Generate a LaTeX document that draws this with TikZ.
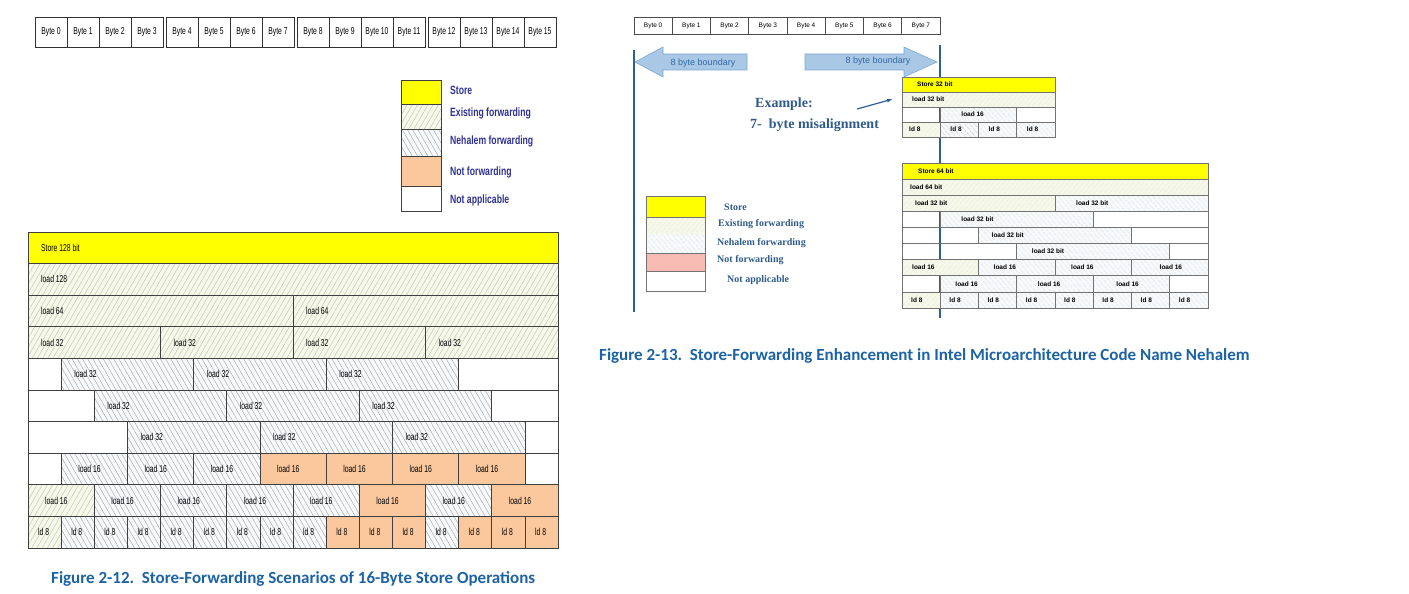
\documentclass[tikz,border=0pt]{standalone}
\usepackage{fontspec}
\setmainfont{Liberation Sans}
\newfontfamily\narrowfont[FakeStretch=0.68]{Liberation Sans}
\newfontfamily\legendfont[FakeStretch=0.72]{Liberation Sans}
\newfontfamily\timesfont{Liberation Serif}
\newfontfamily\capfont{Carlito}
\usetikzlibrary{arrows.meta, patterns.meta}

\definecolor{storeyellow}{HTML}{FFFF00}
\definecolor{exbg}{HTML}{F6F8EA}
\definecolor{exline}{HTML}{C3CBB2}
\definecolor{nhbg}{HTML}{F8F9FA}
\definecolor{nhline}{HTML}{A6AFB9}
\definecolor{rnhline}{HTML}{98A2AD}
\definecolor{nfleft}{HTML}{FAC89C}
\definecolor{nfright}{HTML}{F8BBB4}
\definecolor{legendblue}{HTML}{2E3192}
\definecolor{serifblue}{HTML}{2F5B8C}
\definecolor{steelblue}{HTML}{2C5F93}
\definecolor{arrowfill}{HTML}{A8C8E6}
\definecolor{arrowdraw}{HTML}{7FA8D0}
\definecolor{arrowtextblue}{HTML}{3468A4}
\definecolor{capblue}{HTML}{1C63A6}

\begin{document}
\begin{tikzpicture}[
	x=1pt, y=-1pt,
	grid/.style={draw=black!75, line width=0.7pt},
	rgrid/.style={draw=black!55, line width=0.6pt},
	storecell/.style={fill=storeyellow},
	exfwd/.style={preaction={fill=exbg}, pattern={Lines[angle=60, distance=4.5pt, line width=0.5pt]}, pattern color=exline},
	nhfwd/.style={preaction={fill=nhbg}, pattern={Lines[angle=120, distance=4.5pt, line width=0.5pt]}, pattern color=nhline},
	nofwd/.style={fill=nfleft},
	nacell/.style={fill=white},
	rexfwd/.style={preaction={fill=exbg}, pattern={Lines[angle=50, distance=4pt, line width=0.4pt]}, pattern color=exline},
	rnhfwd/.style={preaction={fill=nhbg}, pattern={Lines[angle=130, distance=4pt, line width=0.45pt]}, pattern color=rnhline},
	pinkfwd/.style={fill=nfright},
	lbyte/.style={draw=black!80, line width=0.6pt, minimum width=32pt, minimum height=30pt, inner sep=0pt, font=\narrowfont\fontsize{10}{11}\selectfont},
	rbyte/.style={draw=black!70, line width=0.6pt, minimum width=38.25pt, minimum height=17pt, inner sep=0pt, font=\fontsize{6.5}{7}\selectfont},
	llabel/.style={anchor=west, inner sep=0pt, font=\narrowfont\fontsize{10}{11}\selectfont},
	rlabel/.style={anchor=west, inner sep=0pt, font=\fontsize{6.5}{7}\selectfont\bfseries},
	legendtext/.style={anchor=west, inner sep=0pt, text=legendblue, font=\legendfont\fontsize{12}{13}\selectfont\bfseries},
	serifleg/.style={anchor=west, inner sep=0pt, text=serifblue, font=\timesfont\fontsize{10}{11}\selectfont\bfseries},
	exampletext/.style={anchor=west, inner sep=0pt, text=serifblue, font=\timesfont\fontsize{14}{15}\selectfont\bfseries},
	boundarrow/.style={fill=arrowfill, draw=arrowdraw, line width=0.6pt},
	arrowtext/.style={inner sep=0pt, text=arrowtextblue, font=\fontsize{9}{10}\selectfont},
	exarrow/.style={-{Latex[length=6pt, width=4pt]}, draw=steelblue, line width=1.2pt},
	boundline/.style={draw=steelblue, line width=2.2pt},
	caption/.style={anchor=west, inner sep=0pt, text=capblue, font=\capfont\fontsize{17}{19}\selectfont\bfseries}
]
\useasboundingbox (0,0) rectangle (1409,594);

% ---------- Figure 2-12 ----------
% byte header
\foreach \b in {0,...,15}
	\node[lbyte] (lb\b) at ({35+\b*32+floor(\b/4)*3+16}, 32) {Byte \b};

% legend
\foreach \ya/\yb/\sty/\lbl/\yl [count=\i] in {80/104/storecell/Store/90, 104/129/exfwd/Existing forwarding/113, 129/156/nhfwd/Nehalem forwarding/141, 156/186/nofwd/Not forwarding/172, 186/211/nacell/Not applicable/200}{
	\draw[grid, \sty] (401,\ya) rectangle (441,\yb);
	\node[legendtext] (lleg\i) at (450,\yl) {\lbl};
}

% scenario grid: 16 bytes, 10 rows
\def\gx{28} \def\gy{232} \def\gw{33.125} \def\gh{31.6}
\foreach \row in {0,...,9}
	\draw[grid] (\gx,{\gy+\row*\gh}) rectangle ++({16*\gw},\gh);
\foreach \row/\st/\len/\sty/\lbl [count=\i] in {
	0/0/16/storecell/Store 128 bit,
	1/0/16/exfwd/load 128,
	2/0/8/exfwd/load 64, 2/8/8/exfwd/load 64,
	3/0/4/exfwd/load 32, 3/4/4/exfwd/load 32, 3/8/4/exfwd/load 32, 3/12/4/exfwd/load 32,
	4/1/4/nhfwd/load 32, 4/5/4/nhfwd/load 32, 4/9/4/nhfwd/load 32,
	5/2/4/nhfwd/load 32, 5/6/4/nhfwd/load 32, 5/10/4/nhfwd/load 32,
	6/3/4/nhfwd/load 32, 6/7/4/nhfwd/load 32, 6/11/4/nhfwd/load 32,
	7/1/2/nhfwd/load 16, 7/3/2/nhfwd/load 16, 7/5/2/nhfwd/load 16, 7/7/2/nofwd/load 16,
	7/9/2/nofwd/load 16, 7/11/2/nofwd/load 16, 7/13/2/nofwd/load 16,
	8/0/2/exfwd/load 16, 8/2/2/nhfwd/load 16, 8/4/2/nhfwd/load 16, 8/6/2/nhfwd/load 16,
	8/8/2/nhfwd/load 16, 8/10/2/nofwd/load 16, 8/12/2/nhfwd/load 16, 8/14/2/nofwd/load 16}{
	\draw[grid, \sty] ({\gx+\st*\gw},{\gy+\row*\gh}) rectangle ++({\len*\gw},\gh);
	\node[llabel] (lc\i) at ({\gx+\st*\gw+(\len==2 ? 17 : 13)},{\gy+(\row+0.5)*\gh}) {\lbl};
}
\foreach \sty [count=\b from 0] in {exfwd,nhfwd,nhfwd,nhfwd,nhfwd,nhfwd,nhfwd,nhfwd,nhfwd,nofwd,nofwd,nofwd,nhfwd,nofwd,nofwd,nofwd}{
	\draw[grid, \sty] ({\gx+\b*\gw},{\gy+9*\gh}) rectangle ++(\gw,\gh);
	\node[llabel] (ld\b) at ({\gx+\b*\gw+10},{\gy+9.5*\gh}) {ld 8};
}

\node[caption] (cap12) at (51,579) {Figure 2-12.\ \ Store-Forwarding Scenarios of 16-Byte Store Operations};

% ---------- Figure 2-13 ----------
% byte header
\foreach \b in {0,...,7}
	\node[rbyte] (rb\b) at ({634+\b*38.25+19.125}, 25.5) {Byte \b};

% 8 byte boundaries
\draw[boundline] (634,50) -- (634,312);
\draw[boundline] (940,45) -- (940,318);
\draw[boundarrow] (747,54) -- (663,54) -- (663,47) -- (635,62) -- (663,77) -- (663,70) -- (747,70) -- cycle;
\node[arrowtext] (lbound) at (703,63) {8 byte boundary};
\draw[boundarrow] (805,54) -- (904,54) -- (904,47) -- (937,62) -- (904,77) -- (904,70) -- (805,70) -- cycle;
\node[arrowtext] (rbound) at (878,61) {8 byte boundary};

% example
\node[exampletext] (exa) at (755,104) {Example:};
\node[exampletext] (exb) at (750,125) {7-\ \ byte misalignment};
\coordinate (extail) at (857,109);
\coordinate (exhead) at (893,99);
\draw[exarrow] (extail) -- (exhead);

% store 32 bit block
\def\bx{902} \def\bw{38.25}
\def\ay{77} \def\ah{15}
\foreach \row in {0,...,3}
	\draw[rgrid] (\bx,{\ay+\row*\ah}) rectangle ++({4*\bw},\ah);
\foreach \row/\st/\len/\sty/\off/\lbl [count=\i] in {
	0/0/4/storecell/15/Store 32 bit,
	1/0/4/rexfwd/10/load 32 bit,
	2/1/2/rnhfwd/21/load 16,
	3/0/1/rexfwd/7/ld 8, 3/1/1/rnhfwd/10/ld 8, 3/2/1/rnhfwd/10/ld 8, 3/3/1/rnhfwd/10/ld 8}{
	\draw[rgrid, \sty] ({\bx+\st*\bw},{\ay+\row*\ah}) rectangle ++({\len*\bw},\ah);
	\node[rlabel] (ac\i) at ({\bx+\st*\bw+\off},{\ay+(\row+0.5)*\ah}) {\lbl};
}

% store 64 bit block
\def\cy{163} \def\ch{16.1}
\foreach \row in {0,...,8}
	\draw[rgrid] (\bx,{\cy+\row*\ch}) rectangle ++({8*\bw},\ch);
\foreach \row/\st/\len/\sty/\off/\lbl [count=\i] in {
	0/0/8/storecell/16/Store 64 bit,
	1/0/8/rexfwd/8/load 64 bit,
	2/0/4/rexfwd/13/load 32 bit, 2/4/4/rnhfwd/21/load 32 bit,
	3/1/4/rnhfwd/21/load 32 bit,
	4/2/4/rnhfwd/13/load 32 bit,
	5/3/4/rnhfwd/15/load 32 bit,
	6/0/2/rexfwd/10/load 16, 6/2/2/rnhfwd/15/load 16, 6/4/2/rnhfwd/16/load 16, 6/6/2/rnhfwd/28/load 16,
	7/1/2/rnhfwd/15/load 16, 7/3/2/rnhfwd/21/load 16, 7/5/2/rnhfwd/23/load 16}{
	\draw[rgrid, \sty] ({\bx+\st*\bw},{\cy+\row*\ch}) rectangle ++({\len*\bw},\ch);
	\node[rlabel] (bc\i) at ({\bx+\st*\bw+\off},{\cy+(\row+0.5)*\ch}) {\lbl};
}
\foreach \sty [count=\b from 0] in {rexfwd,rnhfwd,rnhfwd,rnhfwd,rnhfwd,rnhfwd,rnhfwd,rnhfwd}{
	\draw[rgrid, \sty] ({\bx+\b*\bw},{\cy+8*\ch}) rectangle ++(\bw,\ch);
	\node[rlabel] (bd\b) at ({\bx+\b*\bw+9},{\cy+8.5*\ch}) {ld 8};
}

% legend
\foreach \ya/\yb/\sty [count=\i] in {196/217/storecell, 217/234/rexfwd, 234/253/rnhfwd, 253/271/pinkfwd, 271/291/nacell}
	\fill[\sty] (646,\ya) rectangle (705,\yb);
\draw[rgrid] (646,196) rectangle (705,291);
\draw[rgrid] (646,217) -- (705,217) (646,253) -- (705,253) (646,271) -- (705,271);
\foreach \lbl/\xl/\yl [count=\i] in {Store/724/207, Existing forwarding/718/224, Nehalem forwarding/717/243, Not forwarding/717/260, Not applicable/727/280}
	\node[serifleg] (rleg\i) at (\xl,\yl) {\lbl};

\node[caption] (cap13) at (599,356) {Figure 2-13.\ \ Store-Forwarding Enhancement in Intel Microarchitecture Code Name Nehalem};
\end{tikzpicture}
\end{document}
